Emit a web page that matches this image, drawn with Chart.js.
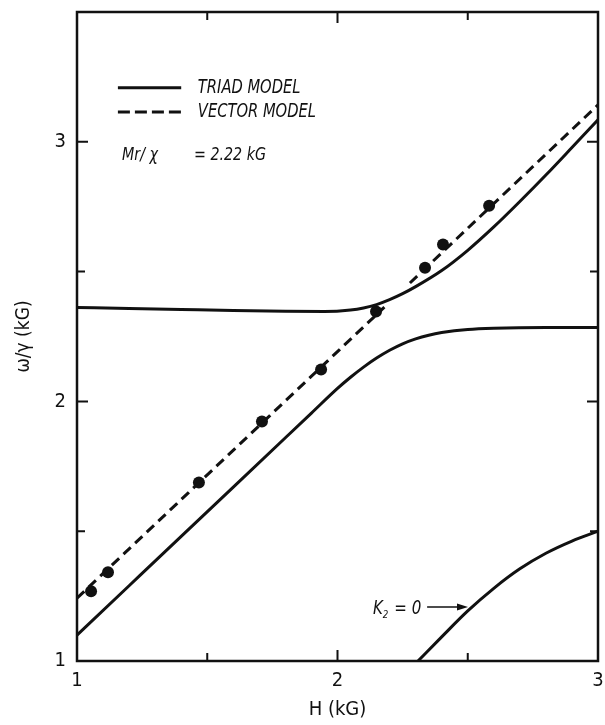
<!DOCTYPE html>
<html>
<head>
<meta charset="utf-8">
<script src="https://cdn.jsdelivr.net/npm/chart.js@4"></script>
<style>
  html, body { margin: 0; padding: 0; background: #fff; }
  #wrap { width: 605px; height: 725px; position: relative; }
</style>
</head>
<body>
<div id="wrap"><canvas id="chart"></canvas></div>
<script>
// triad model, lower branch (H in kG, omega/gamma in kG)
const lowerH = [1.0, 1.2, 1.4, 1.6, 1.8, 1.9, 2.0, 2.05, 2.1, 2.15, 2.2, 2.25, 2.3, 2.35, 2.4, 2.5, 2.6, 2.8, 3.0];
const lowerW = [1.10, 1.29, 1.48, 1.67, 1.86, 1.955, 2.05, 2.093, 2.132, 2.167, 2.197, 2.222, 2.241, 2.255, 2.265, 2.277, 2.282, 2.285, 2.285];

// triad model, upper branch
const upperH = [1.0, 1.2, 1.4, 1.6, 1.8, 1.95, 2.05, 2.1, 2.15, 2.2, 2.25, 2.3, 2.4, 2.5, 2.6, 2.7, 2.8, 2.9, 3.0];
const upperW = [2.362, 2.358, 2.354, 2.350, 2.347, 2.346, 2.352, 2.36, 2.373, 2.392, 2.415, 2.442, 2.504, 2.582, 2.672, 2.770, 2.872, 2.978, 3.085];

// vector model (broken near the crossing)
const vectorH = [1.0, 2.18, 2.23, 2.278, 3.0];
const vectorW = [1.242, 2.363, null, 2.456, 3.142];

// K2 = 0 branch
const k2H = [2.309, 2.4, 2.5, 2.6, 2.7, 2.8, 2.9, 3.0];
const k2W = [1.0, 1.093, 1.193, 1.28, 1.355, 1.415, 1.462, 1.5];

// measured points
const dotsH = [1.054, 1.119, 1.468, 1.710, 1.937, 2.148, 2.336, 2.405, 2.582];
const dotsW = [1.269, 1.342, 1.688, 1.923, 2.123, 2.346, 2.515, 2.604, 2.754];

const xTickLabels = [1, 2, 3];
const yTickLabels = [1, 2, 3];

const FONT = "'Liberation Sans Narrow', 'DejaVu Sans Condensed', 'Liberation Sans', sans-serif";
const INK = "#111";

function pts(xs, ys) {
  return xs.map((x, i) => ({ x: x, y: ys[i] }));
}

function lineSet(xs, ys, dash) {
  return {
    type: "line",
    data: pts(xs, ys),
    borderColor: INK,
    borderWidth: 3,
    borderDash: dash || [],
    pointRadius: 0,
    fill: false,
    spanGaps: false,
    cubicInterpolationMode: "monotone"
  };
}

// frame, inward ticks, legend and labels
const decor = {
  id: "decor",
  afterDatasetsDraw(chart) {
    const ctx = chart.ctx;
    const a = chart.chartArea;
    const xs = chart.scales.x;
    const ys = chart.scales.y;
    ctx.save();
    ctx.strokeStyle = INK;
    ctx.fillStyle = INK;
    ctx.lineWidth = 2.5;
    ctx.strokeRect(a.left, a.top, a.right - a.left, a.bottom - a.top);

    ctx.lineWidth = 2;
    [1.5, 2, 2.5].forEach((v) => {
      const p = xs.getPixelForValue(v);
      const len = Number.isInteger(v) ? 11 : 8;
      ctx.beginPath();
      ctx.moveTo(p, a.bottom); ctx.lineTo(p, a.bottom - len);
      ctx.moveTo(p, a.top); ctx.lineTo(p, a.top + len);
      ctx.stroke();
    });
    [1.5, 2, 2.5, 3].forEach((v) => {
      const p = ys.getPixelForValue(v);
      const len = Number.isInteger(v) ? 11 : 8;
      ctx.beginPath();
      ctx.moveTo(a.left, p); ctx.lineTo(a.left + len, p);
      ctx.moveTo(a.right, p); ctx.lineTo(a.right - len, p);
      ctx.stroke();
    });

    function text(str, x, y, size, sx) {
      ctx.save();
      ctx.font = "italic " + size + "px " + FONT;
      ctx.textBaseline = "middle";
      ctx.translate(x, y);
      ctx.scale(sx, 1);
      ctx.fillText(str, 0, 0);
      const w = ctx.measureText(str).width * sx;
      ctx.restore();
      return w;
    }

    // legend
    const lx0 = xs.getPixelForValue(1.157), lx1 = xs.getPixelForValue(1.40);
    const ly1 = ys.getPixelForValue(3.208), ly2 = ys.getPixelForValue(3.115);
    ctx.lineWidth = 3;
    ctx.beginPath(); ctx.moveTo(lx0, ly1); ctx.lineTo(lx1, ly1); ctx.stroke();
    ctx.setLineDash([12, 5]);
    ctx.beginPath(); ctx.moveTo(lx0, ly2); ctx.lineTo(lx1, ly2); ctx.stroke();
    ctx.setLineDash([]);
    const tx = xs.getPixelForValue(1.464);
    text("TRIAD MODEL", tx, ly1, 19, 0.86);
    text("VECTOR MODEL", tx, ly2, 19, 0.86);
    const my = ys.getPixelForValue(2.946);
    text("Mr/ \u03c7", xs.getPixelForValue(1.173), my, 18, 0.88);
    text("= 2.22 kG", xs.getPixelForValue(1.449), my, 18, 0.88);

    // K2 = 0 label with arrow
    const ky = ys.getPixelForValue(1.208);
    let kx = xs.getPixelForValue(2.136);
    kx += text("K", kx, ky + 2, 19, 0.88);
    kx += text("2", kx, ky + 8, 11, 0.88);
    text("= 0", kx + 6, ky + 2, 19, 0.88);
    const ax0 = xs.getPixelForValue(2.344), ax1 = xs.getPixelForValue(2.501);
    ctx.lineWidth = 1.5;
    ctx.beginPath(); ctx.moveTo(ax0, ky); ctx.lineTo(ax1 - 8, ky); ctx.stroke();
    ctx.beginPath();
    ctx.moveTo(ax1, ky);
    ctx.lineTo(ax1 - 11, ky - 3.5);
    ctx.lineTo(ax1 - 11, ky + 3.5);
    ctx.closePath();
    ctx.fill();
    ctx.restore();
  }
};

new Chart(document.getElementById("chart"), {
  type: "scatter",
  data: {
    datasets: [
      lineSet(lowerH, lowerW),
      lineSet(upperH, upperW),
      lineSet(vectorH, vectorW, [10, 6]),
      lineSet(k2H, k2W),
      {
        type: "scatter",
        data: pts(dotsH, dotsW),
        backgroundColor: INK,
        borderColor: INK,
        pointRadius: 6,
        borderWidth: 0
      }
    ]
  },
  options: {
    responsive: true,
    maintainAspectRatio: false,
    animation: false,
    layout: { padding: { top: 12, right: 7, left: 0, bottom: 0 } },
    plugins: { legend: { display: false }, tooltip: { enabled: false } },
    scales: {
      x: {
        type: "linear",
        min: 1,
        max: 3,
        grid: { display: false, drawTicks: false },
        border: { display: false },
        ticks: {
          stepSize: 0.5,
          autoSkip: false,
          maxRotation: 0,
          padding: 8,
          color: INK,
          font: { family: FONT, size: 20 },
          callback: (v) => (xTickLabels.includes(v) ? String(v) : "")
        },
        title: {
          display: true,
          text: "H (kG)",
          color: INK,
          font: { family: FONT, size: 20 },
          padding: { top: 0, bottom: 3 }
        },
        afterFit: (s) => {
          s.height = 64;
          s.paddingLeft = 0;
          s.paddingRight = 0;
        }
      },
      y: {
        type: "linear",
        min: 1,
        max: 3.5,
        grid: { display: false, drawTicks: false },
        border: { display: false },
        ticks: {
          stepSize: 0.5,
          autoSkip: false,
          padding: 11,
          color: INK,
          font: { family: FONT, size: 20 },
          callback: (v) => (yTickLabels.includes(v) ? String(v) : "")
        },
        title: {
          display: true,
          text: "\u03c9/\u03b3 (kG)",
          color: INK,
          font: { family: FONT, size: 19 },
          padding: { top: 13, bottom: 0 }
        },
        afterFit: (s) => {
          s.width = 77;
          s.paddingTop = 0;
          s.paddingBottom = 0;
        }
      }
    }
  },
  plugins: [decor]
});
</script>
</body>
</html>
